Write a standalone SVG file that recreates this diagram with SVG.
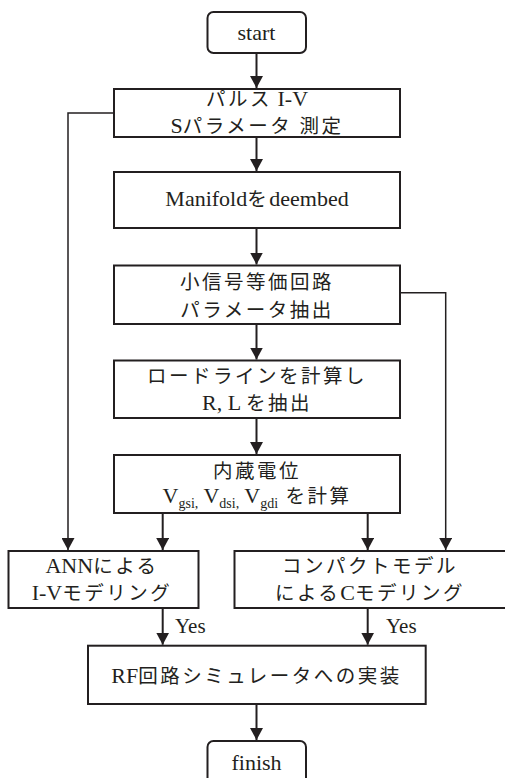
<svg xmlns="http://www.w3.org/2000/svg" width="505" height="778" viewBox="0 0 505 778">
<style>
.box{fill:#fff;stroke:#231f20;stroke-width:2}
.ln{fill:none;stroke:#231f20;stroke-width:2}
.side{fill:none;stroke:#231f20;stroke-width:1.5}
text{font-family:"Liberation Serif","Noto Sans CJK JP",serif;font-size:22px;fill:#231f20;text-anchor:middle}
.j{font-size:19.5px;letter-spacing:2.5px}
.yes{text-anchor:start;font-size:21px}
</style>
<defs>
<marker id="ah" viewBox="0 0 12 13" markerWidth="12" markerHeight="13" refX="12" refY="6.5" orient="auto" markerUnits="userSpaceOnUse">
<path d="M0,0 L12,6.5 L0,13 z" fill="#231f20"/>
</marker>
</defs>
<rect width="505" height="778" fill="#fff"/>
<g id="connectors">
<line class="ln" x1="256.5" y1="53" x2="256.5" y2="88" marker-end="url(#ah)"/>
<line class="ln" x1="256.5" y1="137" x2="256.5" y2="171" marker-end="url(#ah)"/>
<line class="ln" x1="256.5" y1="228" x2="256.5" y2="264.5" marker-end="url(#ah)"/>
<line class="ln" x1="256.5" y1="324" x2="256.5" y2="359.5" marker-end="url(#ah)"/>
<line class="ln" x1="256.5" y1="418" x2="256.5" y2="454" marker-end="url(#ah)"/>
<line class="ln" x1="162.7" y1="513" x2="162.7" y2="550" marker-end="url(#ah)"/>
<line class="ln" x1="367.7" y1="513" x2="367.7" y2="550" marker-end="url(#ah)"/>
<polyline class="side" points="114,113 68,113 68,550" marker-end="url(#ah)"/>
<polyline class="side" points="400,292.7 445.7,292.7 445.7,550" marker-end="url(#ah)"/>
<line class="ln" x1="162.7" y1="608" x2="162.7" y2="644.7" marker-end="url(#ah)"/>
<line class="ln" x1="367.7" y1="608" x2="367.7" y2="644.7" marker-end="url(#ah)"/>
<line class="ln" x1="256.5" y1="704" x2="256.5" y2="740" marker-end="url(#ah)"/>
<text class="yes" x="175" y="633">Yes</text>
<text class="yes" x="386" y="633">Yes</text>
</g>
<g id="start">
<rect class="box" x="207.5" y="12" width="98.5" height="41" rx="6"/>
<text x="256.5" y="40">start</text>
</g>
<g id="measure">
<rect class="box" x="114" y="89" width="286" height="48"/>
<text x="257" y="106"><tspan class="j">パルス</tspan> I-V</text>
<text x="257" y="133">S<tspan class="j">パラメータ 測定</tspan></text>
</g>
<g id="deembed">
<rect class="box" x="114" y="172" width="286" height="56"/>
<text x="257" y="206">Manifold<tspan class="j">を</tspan>deembed</text>
</g>
<g id="smallsignal">
<rect class="box" x="114" y="265.5" width="286" height="58.5"/>
<text x="257" y="289" class="j">小信号等価回路</text>
<text x="257" y="317" class="j">パラメータ抽出</text>
</g>
<g id="loadline">
<rect class="box" x="114" y="360.5" width="286" height="57.5"/>
<text x="257" y="383" class="j">ロードラインを計算し</text>
<text x="257" y="410">R, L <tspan class="j">を抽出</tspan></text>
</g>
<g id="potential">
<rect class="box" x="114" y="455" width="286" height="58"/>
<text x="257" y="478" class="j">内蔵電位</text>
<text x="257" y="503">V<tspan dy="5" font-size="14">gsi,</tspan><tspan dy="-5"> V</tspan><tspan dy="5" font-size="14">dsi,</tspan><tspan dy="-5"> V</tspan><tspan dy="5" font-size="14">gdi</tspan><tspan dy="-5" class="j"> を計算</tspan></text>
</g>
<g id="ann">
<rect class="box" x="8.5" y="551" width="190" height="57"/>
<text x="102" y="573">ANN<tspan class="j">による</tspan></text>
<text x="102" y="600">I-V<tspan class="j">モデリング</tspan></text>
</g>
<g id="compact">
<rect class="box" x="234.5" y="551" width="275" height="57"/>
<text x="370" y="573" class="j">コンパクトモデル</text>
<text x="370" y="600"><tspan class="j">による</tspan>C<tspan class="j">モデリング</tspan></text>
</g>
<g id="rf">
<rect class="box" x="88" y="645.7" width="337.7" height="58.3"/>
<text x="256.5" y="683">RF<tspan class="j">回路シミュレータへの実装</tspan></text>
</g>
<g id="finish">
<rect class="box" x="207.5" y="741" width="98.5" height="50" rx="6"/>
<text x="256.5" y="770">finish</text>
</g>
</svg>
